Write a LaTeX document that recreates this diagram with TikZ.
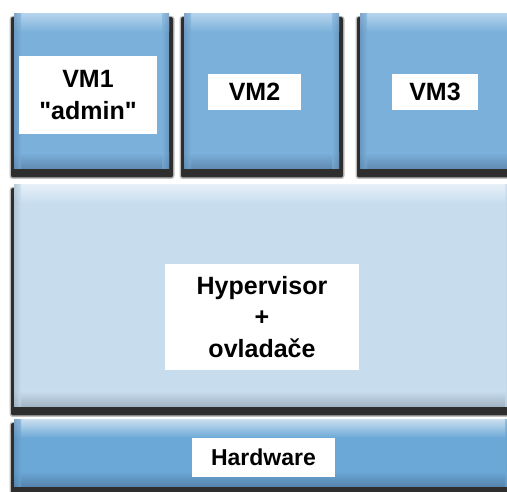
\documentclass[tikz,border=0pt]{standalone}
\usepackage{fontspec}
\newfontfamily\tagfont{Liberation Sans}
\usetikzlibrary{backgrounds}

\definecolor{midvm}{HTML}{7AB0DA}
\definecolor{topvm}{HTML}{B3D2EC}
\definecolor{botvm}{HTML}{6089B0}
\definecolor{midhyp}{HTML}{C7DDEE}
\definecolor{tophyp}{HTML}{E6EFF8}
\definecolor{bothyp}{HTML}{A0B2C2}
\definecolor{midhw}{HTML}{6BA8D7}
\definecolor{tophw}{HTML}{C6DCEE}
\definecolor{bothw}{HTML}{5683AC}
\definecolor{edgedark}{HTML}{2E2E2E}

\begin{document}
\begin{tikzpicture}[
    x=1pt, y=1pt,
    line join=round,
    every node/.style={
      inner sep=0pt,
      outer sep=0pt
    },
    vmbox/.style={rectangle, minimum width=155pt, minimum height=155pt, fill=midvm},
    hypbox/.style={rectangle, minimum width=498pt, minimum height=222pt, fill=midhyp},
    hwbox/.style={rectangle, minimum width=498pt, minimum height=67pt, fill=midhw},
    tag/.style={fill=white, align=center, font=\tagfont\bfseries\fontsize{25}{32}\selectfont}
]
\useasboundingbox (0,0) rectangle (507,492);

% virtual machines
\node[vmbox] (vm1) at (91.5,400.5) {};
\node[vmbox] (vm2) at (261.5,400.5) {};
\node[vmbox] (vm3) at (437.5,400.5) {};

% hypervisor and hardware
\node[hypbox] (hyp) at (263,196) {};
\node[hwbox] (hw) at (263,38.5) {};

% bevel
\foreach \b/\c in {vm1/vm,vm2/vm,vm3/vm,hyp/hyp,hw/hw} {
  \shade[top color=top\c, bottom color=mid\c] (\b.north west) rectangle ([yshift=-18pt]\b.north east);
  \shade[top color=mid\c, bottom color=bot\c] ([yshift=16pt]\b.south west) rectangle (\b.south east);
  \shade[left color=bot\c, right color=mid\c, opacity=0.6] (\b.south west) rectangle ([xshift=7pt]\b.north west);
  \shade[left color=mid\c, right color=bot\c, opacity=0.6] ([xshift=-7pt]\b.south east) rectangle (\b.north east);
}

% shadows
\begin{scope}[on background layer]
  \foreach \b in {vm1,vm2,vm3,hyp,hw} {
    \fill[black!25, rounded corners=3pt] ([xshift=-4.5pt,yshift=-10pt]\b.south west) rectangle ([xshift=5.5pt,yshift=-2pt]\b.north east);
    \fill[edgedark, rounded corners=2pt] ([xshift=-3pt,yshift=-8.5pt]\b.south west) rectangle ([xshift=4pt,yshift=-3pt]\b.north east);
  }
\end{scope}

% labels
\node[tag, minimum width=138pt, minimum height=78pt] (vm1tag) at (88,397) {VM1\\"admin"};
\node[tag, minimum width=93pt, minimum height=36pt] (vm2tag) at (254.5,400) {VM2};
\node[tag, minimum width=86pt, minimum height=36pt] (vm3tag) at (435,400) {VM3};
\node[tag, minimum width=194pt, minimum height=106pt, font=\tagfont\bfseries\fontsize{25}{31.5}\selectfont] (hyptag) at (262,175) {Hypervisor\\+\\ovladače};
\node[tag, minimum width=143pt, minimum height=39pt, font=\tagfont\bfseries\fontsize{23}{28}\selectfont] (hwtag) at (263.5,34.5) {Hardware};
\end{tikzpicture}
\end{document}
